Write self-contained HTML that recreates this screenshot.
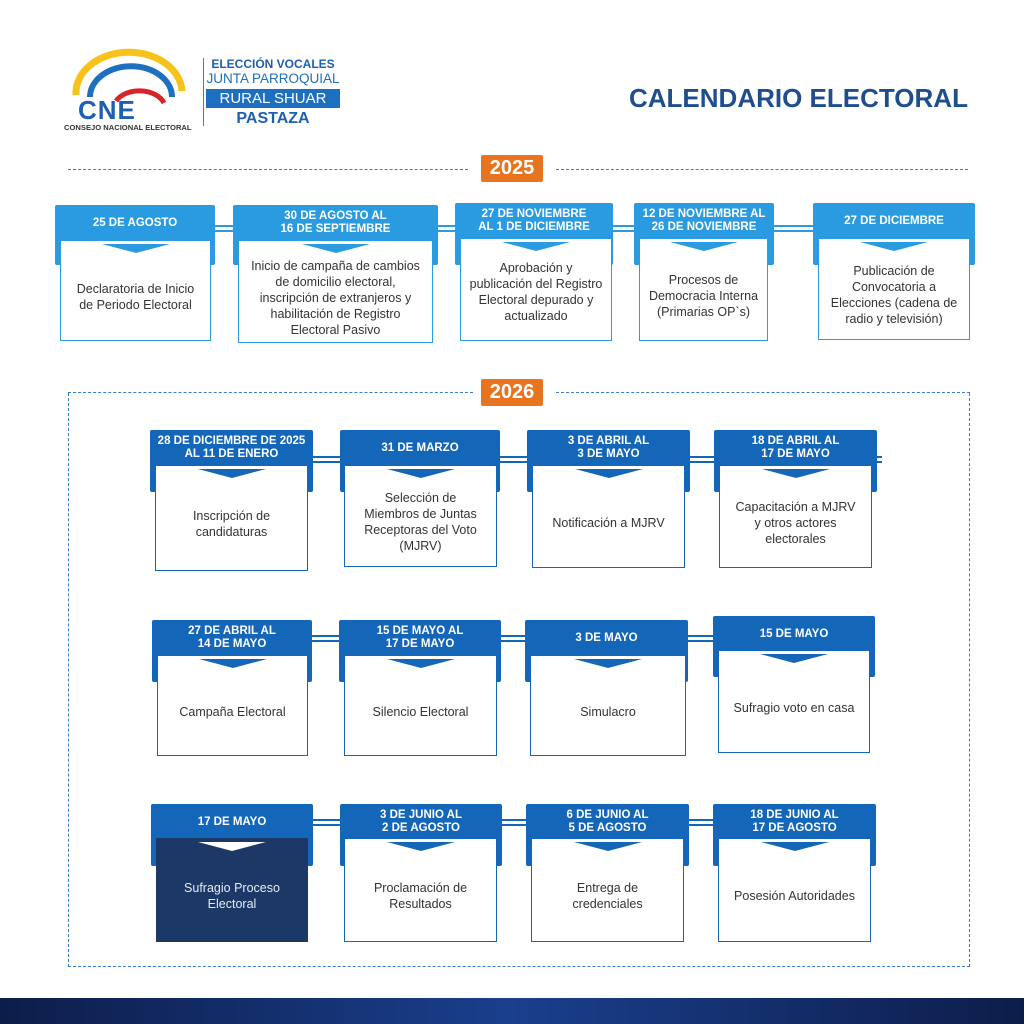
<!DOCTYPE html>
<html><head><meta charset="utf-8"><style>
*{margin:0;padding:0;box-sizing:border-box}
body{width:1024px;height:1024px;position:relative;background:#fff;font-family:"Liberation Sans",sans-serif;overflow:hidden}
.a{position:absolute}
.h{position:absolute;border-radius:2px}
.h span{position:absolute;left:0;right:0;top:0;height:36px;display:flex;align-items:center;justify-content:center;text-align:center;color:#fff;font-weight:bold;font-size:11.5px;line-height:13px}
.w{position:absolute;background:#fff;border:1.5px solid #3a7fc4;display:flex;align-items:center;justify-content:center;text-align:center;color:#333;font-size:12.5px;line-height:16px;padding:12px 3px 0}
.cv{position:absolute;top:3px;left:50%;margin-left:-34px;width:68px;height:9px}
.l{position:absolute;height:7px;border-top:2px solid;border-bottom:2px solid}
.yr{position:absolute;background:#e8741f;color:#fff;font-weight:bold;font-size:20px;text-align:center;line-height:27px;width:62px;height:27px;border-radius:2px}
</style></head><body>

<!-- Logo -->
<svg class="a" style="left:60px;top:45px" width="140" height="90" viewBox="0 0 140 90">
<path d="M16 50 A52 40 0 0 1 122 46" fill="none" stroke="#f7c21a" stroke-width="7"/>
<path d="M30 52 A40 30 0 0 1 112 52" fill="none" stroke="#1d6fc0" stroke-width="6"/>
<path d="M56 56 A26 18 0 0 1 104 58" fill="none" stroke="#d7232a" stroke-width="5"/>
<text x="18" y="74" font-family="Liberation Sans" font-weight="bold" font-size="26" fill="#1d5fb0" letter-spacing="1">CNE</text>
<text x="4" y="85" font-family="Liberation Sans" font-weight="bold" font-size="7.6" fill="#333">CONSEJO NACIONAL ELECTORAL</text>
</svg>
<div class="a" style="left:203px;top:58px;width:1px;height:68px;background:#3a7fc4"></div>
<div class="a" style="left:206px;top:57px;width:134px;text-align:center;color:#1d5fb0;font-weight:bold;font-size:12px">ELECCIÓN VOCALES</div>
<div class="a" style="left:204px;top:71px;width:138px;text-align:center;color:#1d6fc0;font-size:13.5px;white-space:nowrap">JUNTA PARROQUIAL</div>
<div class="a" style="left:206px;top:89px;width:134px;height:19px;background:#1d6fc0;color:#fff;text-align:center;font-size:15px;line-height:19px">RURAL SHUAR</div>
<div class="a" style="left:206px;top:110px;width:134px;text-align:center;color:#1d5fb0;font-weight:bold;font-size:16px">PASTAZA</div>

<div class="a" style="left:629px;top:83px;color:#1f4e8f;font-weight:bold;font-size:26px;white-space:nowrap">CALENDARIO ELECTORAL</div>

<!-- 2025 -->
<div class="a" style="left:68px;top:169px;width:400px;border-top:1.5px dashed #3a7fc4"></div>
<div class="a" style="left:556px;top:169px;width:412px;border-top:1.5px dashed #3a7fc4"></div>
<div class="yr" style="left:481px;top:155px">2025</div>

<div class="l" style="left:214px;top:225px;width:20px;border-color:#2a9be0"></div>
<div class="l" style="left:437px;top:225px;width:20px;border-color:#2a9be0"></div>
<div class="l" style="left:612px;top:225px;width:24px;border-color:#2a9be0"></div>
<div class="l" style="left:773px;top:225px;width:42px;border-color:#2a9be0"></div>

<div class="h" style="left:55px;top:205px;width:160px;height:60px;background:#2a9be0"><span>25 DE AGOSTO</span></div>
<div class="w" style="left:60px;top:240px;width:151px;height:101px;border-color:#2a9be0"><svg class="cv" viewBox="0 0 68 9"><polygon points="0,0 68,0 34,9" fill="#2a9be0"/></svg>Declaratoria de Inicio<br>de Periodo Electoral</div>

<div class="h" style="left:233px;top:205px;width:205px;height:60px;background:#2a9be0"><span>30 DE AGOSTO AL<br>16 DE SEPTIEMBRE</span></div>
<div class="w" style="left:238px;top:240px;width:195px;height:103px;border-color:#2a9be0"><svg class="cv" viewBox="0 0 68 9"><polygon points="0,0 68,0 34,9" fill="#2a9be0"/></svg>Inicio de campaña de cambios<br>de domicilio electoral,<br>inscripción de extranjeros y<br>habilitación de Registro<br>Electoral Pasivo</div>

<div class="h" style="left:455px;top:203px;width:158px;height:62px;background:#2a9be0"><span>27 DE NOVIEMBRE<br>AL 1 DE DICIEMBRE</span></div>
<div class="w" style="left:460px;top:238px;width:152px;height:103px;border-color:#2a9be0;padding-top:4px"><svg class="cv" viewBox="0 0 68 9"><polygon points="0,0 68,0 34,9" fill="#2a9be0"/></svg>Aprobación y<br>publicación del Registro<br>Electoral depurado y<br>actualizado</div>

<div class="h" style="left:634px;top:203px;width:140px;height:62px;background:#2a9be0"><span>12 DE NOVIEMBRE AL<br>26 DE NOVIEMBRE</span></div>
<div class="w" style="left:639px;top:238px;width:129px;height:103px;border-color:#2a9be0"><svg class="cv" viewBox="0 0 68 9"><polygon points="0,0 68,0 34,9" fill="#2a9be0"/></svg>Procesos de<br>Democracia Interna<br>(Primarias OP`s)</div>

<div class="h" style="left:813px;top:203px;width:162px;height:62px;background:#2a9be0"><span>27 DE DICIEMBRE</span></div>
<div class="w" style="left:818px;top:238px;width:152px;height:102px;border-color:#2a9be0"><svg class="cv" viewBox="0 0 68 9"><polygon points="0,0 68,0 34,9" fill="#2a9be0"/></svg>Publicación de<br>Convocatoria a<br>Elecciones (cadena de<br>radio y televisión)</div>

<!-- 2026 frame -->
<div class="a" style="left:68px;top:393px;width:902px;height:574px;border:1.5px dashed #3a7fc4;border-top:none"></div>
<div class="a" style="left:68px;top:392px;width:405px;border-top:1.5px dashed #3a7fc4"></div>
<div class="a" style="left:556px;top:392px;width:414px;border-top:1.5px dashed #3a7fc4"></div>
<div class="yr" style="left:481px;top:379px">2026</div>

<!-- connectors -->
<div class="l" style="left:312px;top:456px;width:30px;border-color:#1466b8"></div>
<div class="l" style="left:499px;top:456px;width:30px;border-color:#1466b8"></div>
<div class="l" style="left:689px;top:456px;width:27px;border-color:#1466b8"></div>
<div class="l" style="left:876px;top:456px;width:6px;border-color:#1466b8"></div>
<div class="l" style="left:311px;top:635px;width:30px;border-color:#1466b8"></div>
<div class="l" style="left:500px;top:635px;width:27px;border-color:#1466b8"></div>
<div class="l" style="left:687px;top:635px;width:28px;border-color:#1466b8"></div>
<div class="l" style="left:312px;top:819px;width:30px;border-color:#1466b8"></div>
<div class="l" style="left:501px;top:819px;width:27px;border-color:#1466b8"></div>
<div class="l" style="left:688px;top:819px;width:27px;border-color:#1466b8"></div>

<!-- Row1 -->
<div class="h" style="left:150px;top:430px;width:163px;height:62px;background:#1466b8"><span>28 DE DICIEMBRE DE 2025<br>AL 11 DE ENERO</span></div>
<div class="w" style="left:155px;top:465px;width:153px;height:106px;border-color:#1466b8"><svg class="cv" viewBox="0 0 68 9"><polygon points="0,0 68,0 34,9" fill="#1466b8"/></svg>Inscripción de<br>candidaturas</div>

<div class="h" style="left:340px;top:430px;width:160px;height:62px;background:#1466b8"><span>31 DE MARZO</span></div>
<div class="w" style="left:344px;top:465px;width:153px;height:102px;border-color:#1466b8"><svg class="cv" viewBox="0 0 68 9"><polygon points="0,0 68,0 34,9" fill="#1466b8"/></svg>Selección de<br>Miembros de Juntas<br>Receptoras del Voto<br>(MJRV)</div>

<div class="h" style="left:527px;top:430px;width:163px;height:62px;background:#1466b8"><span>3 DE ABRIL AL<br>3 DE MAYO</span></div>
<div class="w" style="left:532px;top:465px;width:153px;height:103px;border-color:#1466b8"><svg class="cv" viewBox="0 0 68 9"><polygon points="0,0 68,0 34,9" fill="#1466b8"/></svg>Notificación a MJRV</div>

<div class="h" style="left:714px;top:430px;width:163px;height:62px;background:#1466b8"><span>18 DE ABRIL AL<br>17 DE MAYO</span></div>
<div class="w" style="left:719px;top:465px;width:153px;height:103px;border-color:#1466b8"><svg class="cv" viewBox="0 0 68 9"><polygon points="0,0 68,0 34,9" fill="#1466b8"/></svg>Capacitación a MJRV<br>y otros actores<br>electorales</div>

<!-- Row2 -->
<div class="h" style="left:152px;top:620px;width:160px;height:62px;background:#1466b8"><span>27 DE ABRIL AL<br>14 DE MAYO</span></div>
<div class="w" style="left:157px;top:655px;width:151px;height:101px;border-color:#1466b8"><svg class="cv" viewBox="0 0 68 9"><polygon points="0,0 68,0 34,9" fill="#1466b8"/></svg>Campaña Electoral</div>

<div class="h" style="left:339px;top:620px;width:162px;height:62px;background:#1466b8"><span>15 DE MAYO AL<br>17 DE MAYO</span></div>
<div class="w" style="left:344px;top:655px;width:153px;height:101px;border-color:#1466b8"><svg class="cv" viewBox="0 0 68 9"><polygon points="0,0 68,0 34,9" fill="#1466b8"/></svg>Silencio Electoral</div>

<div class="h" style="left:525px;top:620px;width:163px;height:62px;background:#1466b8"><span>3 DE MAYO</span></div>
<div class="w" style="left:530px;top:655px;width:156px;height:101px;border-color:#1466b8"><svg class="cv" viewBox="0 0 68 9"><polygon points="0,0 68,0 34,9" fill="#1466b8"/></svg>Simulacro</div>

<div class="h" style="left:713px;top:616px;width:162px;height:61px;background:#1466b8"><span>15 DE MAYO</span></div>
<div class="w" style="left:718px;top:650px;width:152px;height:103px;border-color:#1466b8"><svg class="cv" viewBox="0 0 68 9"><polygon points="0,0 68,0 34,9" fill="#1466b8"/></svg>Sufragio voto en casa</div>

<!-- Row3 -->
<div class="h" style="left:151px;top:804px;width:162px;height:62px;background:#1466b8"><span>17 DE MAYO</span></div>
<div class="w" style="left:156px;top:838px;width:152px;height:104px;background:#1b3866;border-color:#1b3866;color:#e6ecf5"><svg class="cv" viewBox="0 0 68 9"><polygon points="0,0 68,0 34,9" fill="#fff"/></svg>Sufragio Proceso<br>Electoral</div>

<div class="h" style="left:340px;top:804px;width:162px;height:62px;background:#1466b8"><span>3 DE JUNIO AL<br>2 DE AGOSTO</span></div>
<div class="w" style="left:344px;top:838px;width:153px;height:104px;border-color:#1466b8"><svg class="cv" viewBox="0 0 68 9"><polygon points="0,0 68,0 34,9" fill="#1466b8"/></svg>Proclamación de<br>Resultados</div>

<div class="h" style="left:526px;top:804px;width:163px;height:62px;background:#1466b8"><span>6 DE JUNIO AL<br>5 DE AGOSTO</span></div>
<div class="w" style="left:531px;top:838px;width:153px;height:104px;border-color:#1466b8"><svg class="cv" viewBox="0 0 68 9"><polygon points="0,0 68,0 34,9" fill="#1466b8"/></svg>Entrega de<br>credenciales</div>

<div class="h" style="left:713px;top:804px;width:163px;height:62px;background:#1466b8"><span>18 DE JUNIO AL<br>17 DE AGOSTO</span></div>
<div class="w" style="left:718px;top:838px;width:153px;height:104px;border-color:#1466b8"><svg class="cv" viewBox="0 0 68 9"><polygon points="0,0 68,0 34,9" fill="#1466b8"/></svg>Posesión Autoridades</div>

<!-- bottom bar -->
<div class="a" style="left:0;top:998px;width:1024px;height:26px;background:linear-gradient(90deg,#0d1d4a,#1a3f8c 50%,#0d1d4a)"></div>
</body></html>
